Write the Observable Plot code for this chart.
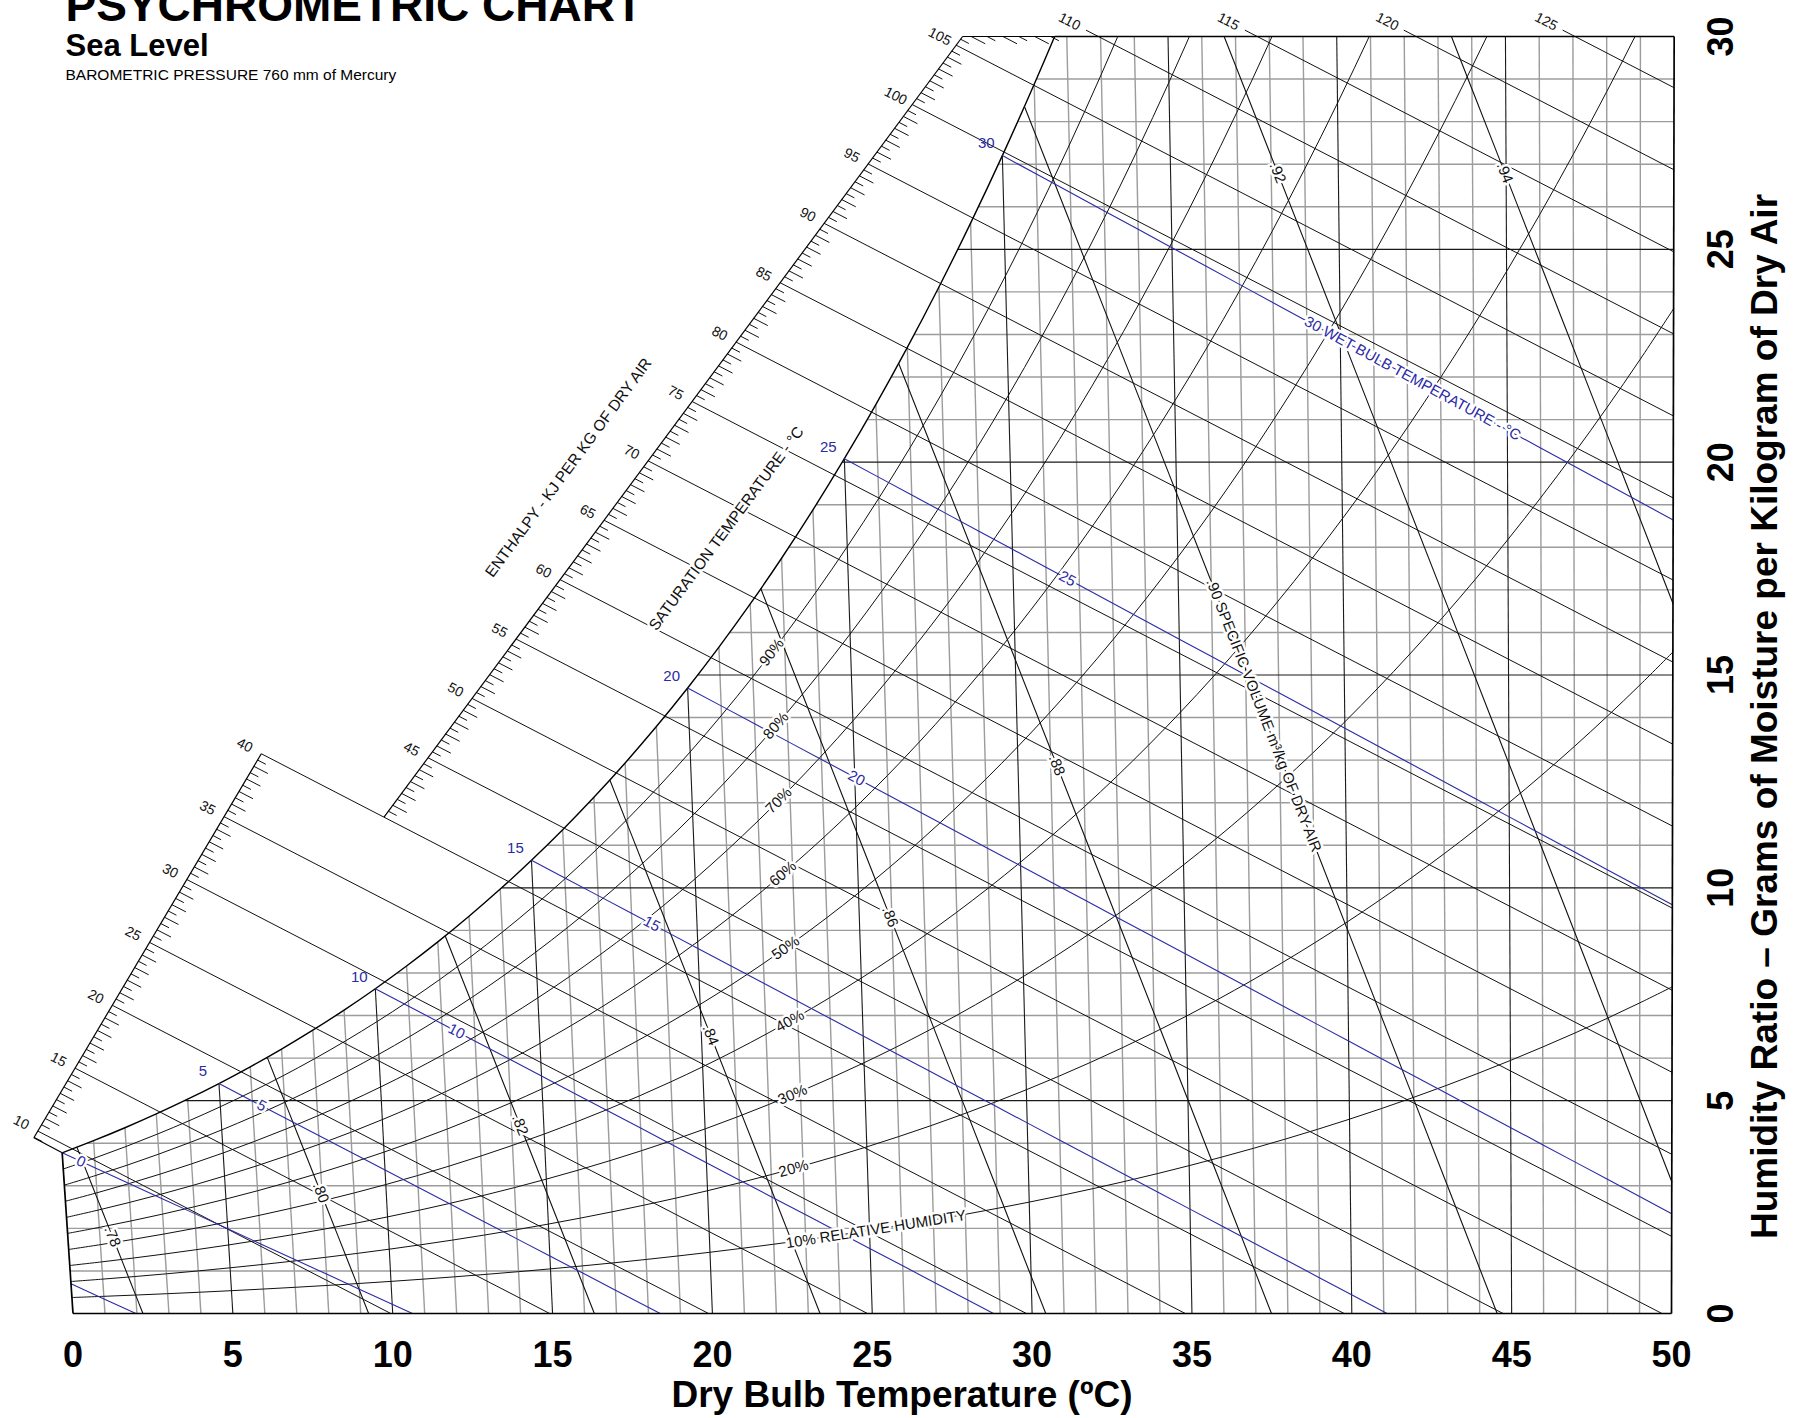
<!DOCTYPE html>
<html>
<head>
<meta charset="utf-8">
<script src="https://cdn.jsdelivr.net/npm/d3@7"></script>
<script src="https://cdn.jsdelivr.net/npm/@observablehq/plot@0.6"></script>
<style>
  html, body { margin: 0; padding: 0; background: #fff; }
  #chart { width: 1803px; height: 1418px; overflow: hidden; }
</style>
</head>
<body>
<div id="chart"></div>
<script>
// ---------------- DATA ----------------
const PRESSURE_KPA = 101.325; // sea level, 760 mm Hg
// saturation vapour pressure over water (kPa) at each dry bulb degree
const satTemps = [0,1,2,3,4,5,6,7,8,9,10,11,12,13,14,15,16,17,18,19,20,21,22,23,24,25,
  26,27,28,29,30,31,32,33,34,35,36,37,38,39,40,41,42,43,44,45,46,47,48,49,50];
const satPressure = [0.6112,0.6571,0.7060,0.7581,0.8135,0.8725,0.9353,1.0020,1.0728,1.1481,
  1.2280,1.3127,1.4026,1.4978,1.5987,1.7055,1.8184,1.9380,2.0643,2.1978,2.3388,2.4877,2.6448,
  2.8104,2.9851,3.1692,3.3631,3.5673,3.7822,4.0083,4.2460,4.4959,4.7585,5.0343,5.3239,5.6278,
  5.9466,6.2810,6.6315,6.9987,7.3835,7.7863,8.2080,8.6492,9.1107,9.5932,10.0976,10.6246,
  11.1751,11.7499,12.3499];
const iceWetBulbPressure = 0.4018; // -5 °C over ice

const dryBulbTicks = [0,5,10,15,20,25,30,35,40,45,50];
const humidityTicks = [0,5,10,15,20,25,30];
const humidityGrid = [1,2,3,4,5,6,7,8,9,10,11,12,13,14,15,16,17,18,19,20,21,22,23,24,25,26,27,28,29];

const rhLevels     = [10, 20, 30, 40, 50, 60, 70, 80, 90];
const rhLabelTemps = [25.2, 22.7, 22.75, 22.75, 22.7, 22.7, 22.65, 22.65, 22.6];
const rhLabelText  = ["10% RELATIVE HUMIDITY","20%","30%","40%","50%","60%","70%","80%","90%"];

const wetBulbLevels = [-5, 0, 5, 10, 15, 20, 25, 30];
const wetBulbLabelX = [null, 0.25, 5.9, 12.0, 18.1, 24.5, 31.1, 41.9];
const wetBulbLabelText = [null, "0", "5", "10", "15", "20", "25", "30 WET BULB TEMPERATURE - °C"];

const enthalpyLevels = [10,15,20,25,30,35,40,45,50,55,60,65,70,75,80,85,90,95,100,105,110,115,120,125];
// enthalpy scale (kJ/kg) anchored by humidity ratio (g/kg)
const enthalpyScaleLower = {h0: 9.47, w0: 4.13, h1: 40, w1: 13.15};
const enthalpyScaleUpper = {h0: 40, w0: 11.66, h1: 105.73, w1: 30};
const enthalpyTopStartW = 30.15;

const volumeLevels = [0.78, 0.80, 0.82, 0.84, 0.86, 0.88, 0.90, 0.92, 0.94];
const volumeLabelW = [1.81, 2.84, 4.43, 6.54, 9.32, 12.88, 14.05, 26.8, 26.8];
const volumeLabelText = [".78",".80",".82",".84",".86",".88",".90 SPECIFIC VOLUME m³/kg OF DRY AIR",".92",".94"];

const annotations = [
  {text: "ENTHALPY - KJ PER KG OF DRY AIR", x: 15.5, w: 19.87},
  {text: "SATURATION TEMPERATURE - °C", x: 20.44, w: 18.44}
];

// ---------------- GEOMETRY / PSYCHROMETRICS ----------------
const BLUE = "#2b2ba6";
const FONT = "'Liberation Sans', Arial, Helvetica, sans-serif";
const T0 = 48.5;                       // chart skew reference temperature
const C_SHEAR = 2501 + 1.86 * T0;
const xPx = (1671 - 72.5) / 50;
const xDomain = [-72.5 / xPx, (1803 - 72.5) / xPx];
const xS = d3.scaleLinear(xDomain, [0, 1803]);
const yS = d3.scaleLinear([0, 30], [1313, 36]);

const lnP = satPressure.map(Math.log);
function pws(t) {
  const i = Math.max(0, Math.min(49, Math.floor(t)));
  const f = t - i;
  return Math.exp(lnP[i] * (1 - f) + lnP[i + 1] * f);
}
const wFromPw = pw => 621.945 * pw / (PRESSURE_KPA - pw);        // g/kg
const wSat = t => wFromPw(pws(t));
function tDew(w) {
  const lp = Math.log(PRESSURE_KPA * w / (621.945 + w));
  for (let i = 0; i < 50; i++) if (lp <= lnP[i + 1]) return i + (lp - lnP[i]) / (lnP[i + 1] - lnP[i]);
  return 50;
}
const chartX = (t, w) => t + (1.86 / 1.006) * (w / 1000) * (t - T0);
const hX = (h, w) => (h - C_SHEAR * w / 1000) / 1.006;
const angleDeg = (a, b) => Math.atan2(yS(b[1]) - yS(a[1]), xS(b[0]) - xS(a[0])) * 180 / Math.PI;

// ---------- grid ----------
const gridMinor = [], gridMajor = [], borders = [];
satTemps.forEach(t => {
  const wt = Math.min(wSat(t), 30);
  const s = {x1: chartX(t, 0), y1: 0, x2: chartX(t, wt), y2: wt};
  if (t === 0 || t === 50) borders.push(s); else if (t % 5 === 0) gridMajor.push(s); else gridMinor.push(s);
});
humidityGrid.forEach(w => {
  const s = {x1: chartX(Math.max(0, tDew(w)), w), y1: w, x2: chartX(50, w), y2: w};
  if (w % 5 === 0) gridMajor.push(s); else gridMinor.push(s);
});
borders.push({x1: 0, y1: 0, x2: 50, y2: 0});
const topSatX = chartX(tDew(30), 30);
borders.push({x1: topSatX, y1: 30, x2: chartX(50, 30), y2: 30});

// ---------- RH & saturation ----------
const rhPts = [];
rhLevels.forEach(rh => satTemps.forEach(t => {
  const w = wFromPw(rh / 100 * pws(t));
  rhPts.push({k: rh, x: chartX(t, w), y: w});
}));
const satPts = satTemps.filter(t => t <= 33).map(t => ({x: chartX(t, wSat(t)), y: wSat(t)}));

// ---------- enthalpy ----------
const lerpScale = (S, h) => S.w0 + (S.w1 - S.w0) * (h - S.h0) / (S.h1 - S.h0);
function scaleW(h) {
  if (h <= 40) return lerpScale(enthalpyScaleLower, h);
  const u = lerpScale(enthalpyScaleUpper, h);
  return u < 30 ? u : 30;
}
const enthalpySegs = [], enthalpyLabels = [];
enthalpyLevels.forEach(h => {
  const w0 = h > enthalpyScaleUpper.h1 ? enthalpyTopStartW : scaleW(h);
  let x2, w2;
  if (h / 1.006 <= 50) { x2 = h / 1.006; w2 = 0; }
  else { w2 = (h - 1.006 * 50) / (2501 + 1.86 * 50) * 1000; x2 = hX(h, w2); }
  enthalpySegs.push({x1: hX(h, w0), y1: w0, x2, y2: w2});
  const wl = w0 + 0.2;
  enthalpyLabels.push({x: hX(h, wl), y: wl, text: String(h)});
});
const enthAngle = angleDeg([hX(50, 10), 10], [hX(50, 0), 0]);
const enthTicks = [];
for (let h = 9.5; h <= 109.5; h += 0.5) {
  if (h % 5 === 0) continue;
  const w = scaleW(h);
  if (w >= 30 && hX(h, 30) > topSatX - 0.05) continue;
  const len = Number.isInteger(h) ? 0.17 : 0.10;
  enthTicks.push({x1: hX(h, w), y1: w, x2: hX(h, w - len), y2: w - len});
}
const L = enthalpyScaleLower, U = enthalpyScaleUpper;
const scaleLines = [
  {x1: hX(L.h0, L.w0), y1: L.w0, x2: hX(L.h1, L.w1), y2: L.w1},
  {x1: hX(U.h0, U.w0), y1: U.w0, x2: hX(U.h1, U.w1), y2: U.w1},
  {x1: hX(U.h1, 30), y1: 30, x2: topSatX, y2: 30},
  {x1: hX(L.h0, L.w0), y1: L.w0, x2: chartX(0, wSat(0)), y2: wSat(0)}
];

// ---------- specific volume ----------
const tV = (v, w) => v * PRESSURE_KPA / (0.287042 * (1 + 1.607858 * w / 1000)) - 273.15;
const volPts = [], volLabels = [];
volumeLevels.forEach((v, i) => {
  let wStart;
  const f = w => wSat(tV(v, w)) - w;
  if (f(30) > 0) wStart = 30;
  else { let a = 0, b = 30; for (let k = 0; k < 50; k++) { const m = (a + b) / 2; if (f(m) > 0) a = m; else b = m; } wStart = (a + b) / 2; }
  const wEnd = tV(v, 0) <= 50 ? 0 : (v * PRESSURE_KPA / (0.287042 * 323.15) - 1) / 1.607858 * 1000;
  for (let k = 0; k <= 10; k++) {
    const w = wStart + (wEnd - wStart) * k / 10;
    volPts.push({k: v, x: chartX(tV(v, w), w), y: w});
  }
  const wl = volumeLabelW[i];
  const p = w => [chartX(tV(v, w), w), w];
  volLabels.push({x: p(wl)[0], y: wl, text: volumeLabelText[i], r: angleDeg(p(wl + 0.3), p(wl - 0.3))});
});

// ---------- wet bulb ----------
function wbWs(tw) { return wFromPw(tw < 0 ? iceWetBulbPressure : satPressure[satTemps.indexOf(tw)]) / 1000; }
function wbW(t, tw) {
  const ws = wbWs(tw);
  if (tw > 0) return ((2501 - 2.326 * tw) * ws - 1.006 * (t - tw)) / (2501 + 1.86 * t - 4.186 * tw) * 1000;
  return ((2830 - 0.24 * tw) * ws - 1.006 * (t - tw)) / (2830 + 1.86 * t - 2.1 * tw) * 1000;
}
function wbEnd(tw) {
  const ws = wbWs(tw);
  const t = tw > 0 ? tw + (2501 - 2.326 * tw) * ws / 1.006 : tw + (2830 - 0.24 * tw) * ws / 1.006;
  return Math.min(t, 50);
}
const wbPts = [], wbOuter = [], wbInline = [];
wetBulbLevels.forEach((tw, i) => {
  const t0 = Math.max(tw, 0), t1 = wbEnd(tw);
  const ts = [t0];
  for (let t = Math.floor(t0) + 1; t < t1; t++) ts.push(t);
  ts.push(t1);
  ts.forEach(t => { const w = Math.max(0, wbW(t, tw)); wbPts.push({k: tw, x: chartX(t, w), y: w}); });
  if (tw >= 5) wbOuter.push({x: chartX(tw, wSat(tw)), y: wSat(tw), text: String(tw)});
  if (wetBulbLabelX[i] != null) {
    let best = null, bd = Infinity;
    for (let t = t0; t <= t1; t += 0.01) {
      const w = wbW(t, tw), X = chartX(t, w), d = Math.abs(X - wetBulbLabelX[i]);
      if (d < bd) { bd = d; best = t; }
    }
    const p = t => [chartX(t, wbW(t, tw)), wbW(t, tw)];
    const c = p(best);
    wbInline.push({x: c[0], y: c[1], text: wetBulbLabelText[i], r: angleDeg(p(best - 0.3), p(best + 0.3))});
  }
});

// ---------- RH labels ----------
const rhLabels = rhLevels.map((rh, i) => {
  const p = t => { const w = wFromPw(rh / 100 * pws(t)); return [chartX(t, w), w]; };
  const t = rhLabelTemps[i], c = p(t);
  return {x: c[0], y: c[1], text: rhLabelText[i], r: angleDeg(p(t - 0.4), p(t + 0.4))};
});
const scaleAngle = angleDeg([hX(U.h0, U.w0), U.w0], [hX(U.h1, U.w1), U.w1]);
const annoData = annotations.map(a => ({x: a.x, y: a.w, text: a.text, r: scaleAngle}));

// ---------------- PLOT ----------------
const seg = {x1: "x1", y1: "y1", x2: "x2", y2: "y2"};
const halo = {stroke: "white", strokeWidth: 5, strokeLinejoin: "round", paintOrder: "stroke"};
const mid = {textAnchor: "middle", lineAnchor: "middle"};
const chart = Plot.plot({
  width: 1803, height: 1418,
  marginLeft: 0, marginRight: 0, marginTop: 36, marginBottom: 105,
  x: {domain: xDomain, axis: null},
  y: {domain: [0, 30], axis: null},
  style: {background: "white", fontFamily: FONT},
  marks: [
    Plot.link(gridMinor, {...seg, stroke: "#9c9c9c", strokeWidth: 1.4}),
    Plot.link(gridMajor, {...seg, stroke: "#1a1a1a", strokeWidth: 1.1}),
    Plot.line(rhPts, {x: "x", y: "y", z: "k", curve: "catmull-rom", clip: true, stroke: "#111", strokeWidth: 1}),
    Plot.line(satPts, {x: "x", y: "y", curve: "catmull-rom", clip: true, stroke: "#000", strokeWidth: 1.4}),
    Plot.link(enthalpySegs, {...seg, stroke: "#111", strokeWidth: 1}),
    Plot.link(enthTicks, {...seg, stroke: "#111", strokeWidth: 1}),
    Plot.link(scaleLines, {...seg, stroke: "#000", strokeWidth: 1.2}),
    Plot.line(volPts, {x: "x", y: "y", z: "k", stroke: "#111", strokeWidth: 1.1}),
    Plot.line(wbPts, {x: "x", y: "y", z: "k", stroke: BLUE, strokeWidth: 1.1}),
    Plot.link(borders, {...seg, stroke: "#000", strokeWidth: 1.7}),

    Plot.text(enthalpyLabels, {x: "x", y: "y", text: "text", rotate: enthAngle, fontSize: 14, fill: "#111", ...mid}),
    Plot.text(wbOuter, {x: "x", y: "y", text: "text", dx: -16, dy: -12, fontSize: 15, fill: BLUE, ...mid}),
    Plot.text(wbInline, {x: "x", y: "y", text: "text", rotate: d => d.r, fontSize: 15, fill: BLUE, ...halo, ...mid}),
    Plot.text(rhLabels, {x: "x", y: "y", text: "text", rotate: d => d.r, fontSize: 15, fill: "#111", ...halo, ...mid}),
    Plot.text(volLabels, {x: "x", y: "y", text: "text", rotate: d => d.r, fontSize: 15, fill: "#111", ...halo, ...mid}),
    Plot.text(annoData, {x: "x", y: "y", text: "text", rotate: d => d.r, fontSize: 15.5, fill: "#111", ...halo, ...mid}),

    Plot.text(dryBulbTicks, {x: d => d, text: d => String(d), frameAnchor: "bottom", dy: 42, fontSize: 36, fontWeight: "bold", fill: "#000", ...mid}),
    Plot.text(humidityTicks, {y: d => d, text: d => String(d), frameAnchor: "right", dx: -82, rotate: -90, fontSize: 36, fontWeight: "bold", fill: "#000", ...mid}),
    Plot.text(["Dry Bulb Temperature (ºC)"], {frameAnchor: "bottom", dy: 82, fontSize: 37, fontWeight: "bold", fill: "#000", ...mid}),
    Plot.text(["Humidity Ratio – Grams of Moisture per Kilogram of Dry Air"], {frameAnchor: "right", dx: -38, dy: 41.5, rotate: -90, fontSize: 37, fontWeight: "bold", fill: "#000", ...mid}),
    Plot.text(["PSYCHROMETRIC CHART"], {frameAnchor: "top-left", dx: 65, dy: 20 - 36, lineAnchor: "bottom", textAnchor: "start", fontSize: 46, fontWeight: "bold", fill: "#000"}),
    Plot.text(["Sea Level"], {frameAnchor: "top-left", dx: 65, dy: 55 - 36, lineAnchor: "bottom", textAnchor: "start", fontSize: 31, fontWeight: "bold", fill: "#000"}),
    Plot.text(["BAROMETRIC PRESSURE 760 mm of Mercury"], {frameAnchor: "top-left", dx: 65, dy: 79 - 36, lineAnchor: "bottom", textAnchor: "start", fontSize: 15.5, fill: "#000"})
  ]
});
document.getElementById("chart").appendChild(chart);
</script>
</body>
</html>
